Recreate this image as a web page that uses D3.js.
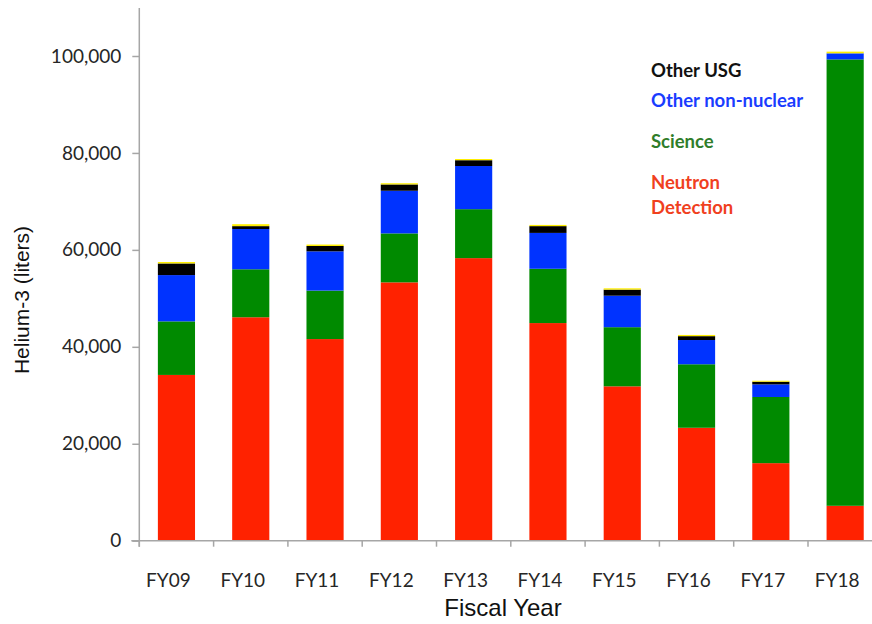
<!DOCTYPE html>
<html><head><meta charset="utf-8">
<script src="https://cdn.jsdelivr.net/npm/d3@7"></script>
<style>body{margin:0;background:#fff}svg{display:block}</style>
</head><body><div id="chart"></div>
<script>
const categories = ["FY09","FY10","FY11","FY12","FY13","FY14","FY15","FY16","FY17","FY18"];
const neutronDetection = [34.2,46.1,41.6,53.3,58.3,44.9,31.85,23.3,16.0,7.2].map(v=>v*1000);
const science          = [11.05,9.9,10.0,10.1,10.1,11.2,12.2,13.1,13.65,92.1].map(v=>v*1000);
const otherNonNuclear  = [9.55,8.3,8.1,8.8,8.9,7.4,6.5,5.0,2.6,1.25].map(v=>v*1000);
const otherUSG         = [2.4,0.6,1.1,1.3,1.2,1.4,1.25,0.8,0.55,0.0].map(v=>v*1000);
const otherSmall       = [0.3,0.4,0.3,0.25,0.25,0.25,0.27,0.25,0.2,0.35].map(v=>v*1000);
const yTicks = [0,20000,40000,60000,80000,100000];
const seriesKeys = ["Neutron Detection","Science","Other non-nuclear","Other USG","Other"];
const seriesColors = ["#ff2200","#008a00","#0033ff","#000000","#ffee00"];
const legendLabels = ["Other USG","Other non-nuclear","Science","Neutron\nDetection"];
const legendColors = ["#111111","#1a3cff","#2f7d2a","#f0401e"];

const W=872,H=624;
const m={left:139.3,right:872,top:8,bottom:540.7};
const svg=d3.select("#chart").append("svg").attr("width",W).attr("height",H);

const table=categories.map((c,i)=>({cat:c,
 "Neutron Detection":neutronDetection[i],"Science":science[i],
 "Other non-nuclear":otherNonNuclear[i],"Other USG":otherUSG[i],"Other":otherSmall[i]}));
const stacked=d3.stack().keys(seriesKeys)(table);

const x=d3.scaleBand().domain(categories).range([m.left,m.left+74.3*10]).paddingInner(0.5).paddingOuter(0.25);
const y=d3.scaleLinear().domain([0,100000]).range([m.bottom,56]);
const color=d3.scaleOrdinal().domain(seriesKeys).range(seriesColors);

// bars
svg.append("g").selectAll("g").data(stacked).join("g").attr("fill",d=>color(d.key))
 .selectAll("rect").data(d=>d).join("rect")
 .attr("x",d=>x(d.data.cat)).attr("width",x.bandwidth())
 .attr("y",d=>y(d[1])).attr("height",d=>Math.max(0,y(d[0])-y(d[1])));

const axisColor="#a6a6a6";
// y axis
const ya=svg.append("g").attr("transform",`translate(${m.left},0)`)
 .call(d3.axisLeft(y).tickValues(yTicks).tickSize(7).tickPadding(11).tickFormat(d3.format(",")));
ya.select(".domain").remove();
ya.append("line").attr("x1",0).attr("x2",0).attr("y1",m.top).attr("y2",m.bottom+6).attr("stroke",axisColor).attr("stroke-width",1.5);
ya.selectAll(".tick line").attr("stroke",axisColor).attr("stroke-width",1.5);
ya.selectAll(".tick text").attr("font-family","Lato, 'Open Sans', sans-serif").attr("font-size",19).attr("fill","#262626");

// x axis
const xa=svg.append("g").attr("transform",`translate(0,${m.bottom})`);
xa.append("line").attr("x1",m.left-8).attr("x2",W).attr("y1",0).attr("y2",0).attr("stroke",axisColor).attr("stroke-width",1.5);
const bounds=categories.map(c=>x(c)-x.step()*x.paddingInner()/2);
xa.selectAll("line.tk").data(bounds).join("line").attr("class","tk")
 .attr("x1",d=>d).attr("x2",d=>d).attr("y1",0).attr("y2",6).attr("stroke",axisColor).attr("stroke-width",1.5);
xa.selectAll("text").data(categories).join("text")
 .attr("x",d=>x(d)+x.bandwidth()/2-8).attr("y",46).attr("text-anchor","middle")
 .attr("font-family","Lato, 'Open Sans', sans-serif").attr("font-size",19).attr("fill","#262626").text(d=>d);

// axis titles
svg.append("text").attr("x",503).attr("y",616).attr("text-anchor","middle")
 .attr("font-family","'Liberation Sans', Arial, sans-serif").attr("font-size",24).attr("fill","#111").text("Fiscal Year");
svg.append("text").attr("transform","translate(29,300) rotate(-90)").attr("text-anchor","middle")
 .attr("font-family","'Liberation Sans', Arial, sans-serif").attr("font-size",21).attr("fill","#111").text("Helium-3 (liters)");

// legend text
const ly=[77,107,148,189];
const lg=svg.append("g").attr("font-family","Lato, 'Open Sans', sans-serif").attr("font-weight","bold").attr("font-size",18.5);
legendLabels.forEach((t,i)=>{
  const tx=lg.append("text").attr("x",651).attr("y",ly[i]).attr("fill",legendColors[i]);
  t.split("\n").forEach((line,j)=>tx.append("tspan").attr("x",651).attr("dy",j?25:0).text(line));
});
</script></body></html>
